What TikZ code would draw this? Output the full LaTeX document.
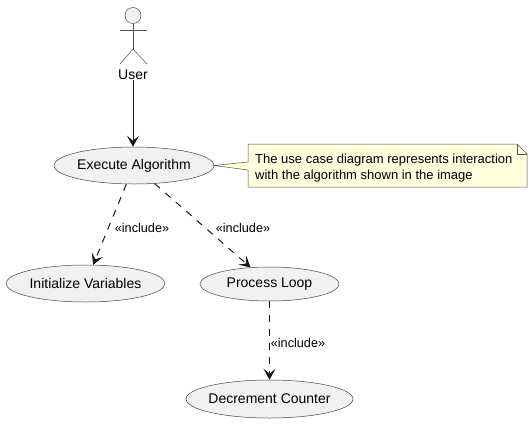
\documentclass[tikz,border=0pt]{standalone}
\usepackage{fontspec}
\setmainfont{Liberation Sans}
\usetikzlibrary{shapes.geometric,arrows.meta}
\definecolor{ucfill}{HTML}{F1F1F1}
\definecolor{ucline}{HTML}{181818}
\definecolor{notefill}{HTML}{FEFFDD}
\tikzset{
    usecase/.style={draw=ucline!80, fill=ucfill, line width=.5pt, ellipse, inner xsep=-15pt, inner ysep=0pt, font=\fontsize{14}{16}\selectfont},
    lbl/.style={inner sep=0pt, font=\fontsize{12.7}{14}\selectfont},
    rel/.style={draw=ucline, line width=1pt, -{Stealth[length=11pt, width=12pt, inset=5pt]}},
    incl/.style={rel, dash pattern=on 7pt off 7pt},
    stick/.style={draw=ucline!75, line width=.5pt},
}
\begin{document}
\begin{tikzpicture}[x=1pt, y=-1pt]
        \useasboundingbox[fill=white] (0,0) rectangle (532,423);

        % actor
        \node[stick, fill=ucfill, circle, minimum size=16pt, inner sep=0pt] (head) at (133,15.5) {};
        \coordinate (hip) at (133,49);
        \coordinate (armL) at (120,30);
        \coordinate (armR) at (147,30);
        \coordinate (footL) at (120,64);
        \coordinate (footR) at (147,64);
        \draw[stick] (head) -- (hip);
        \draw[stick] (armL) -- (armR);
        \draw[stick] (footL) -- (hip) -- (footR);
        \node[inner sep=0pt, font=\fontsize{14}{16}\selectfont] (user) at (133,75) {User};

        % use cases
        \node[usecase, minimum width=160pt, minimum height=37pt] (exec) at (134,165.5) {Execute Algorithm};
        \node[usecase, minimum width=159pt, minimum height=37pt] (init) at (85.5,283.5) {Initialize Variables};
        \node[usecase, minimum width=139pt, minimum height=34pt] (loop) at (269.5,284) {Process Loop};
        \node[usecase, minimum width=167pt, minimum height=38pt] (decr) at (269.5,399) {Decrement Counter};

        % note
        \coordinate (noteTL) at (248,144);
        \coordinate (noteTR) at (517,144);
        \coordinate (noteF) at (527,154);
        \coordinate (noteBR) at (527,187);
        \coordinate (noteBL) at (248,187);
        \coordinate (tailA) at (248,162);
        \coordinate (tailB) at (248,170);
        \draw[stick, fill=notefill] (noteTL) -- (noteTR) -- (noteF) -- (noteBR) -- (noteBL) -- (tailB) -- (exec.east) -- (tailA) -- cycle;
        \draw[stick] (noteTR) |- (noteF);
        \node[inner sep=0pt, align=left, anchor=west, font=\fontsize{13}{16}\selectfont] (note) at (255,168) {The use case diagram represents interaction\\with the algorithm shown in the image};

        % connectors
        \draw[rel] (user) -- (user |- exec.north);
        \draw[incl] (exec) -- (init);
        \draw[incl] (exec) -- (loop);
        \draw[incl] (loop) -- (decr);

        \node[lbl] (incl1) at (142,228) {«include»};
        \node[lbl] (incl2) at (243,228) {«include»};
        \node[lbl] (incl3) at (298,343) {«include»};
    \end{tikzpicture}
\end{document}
